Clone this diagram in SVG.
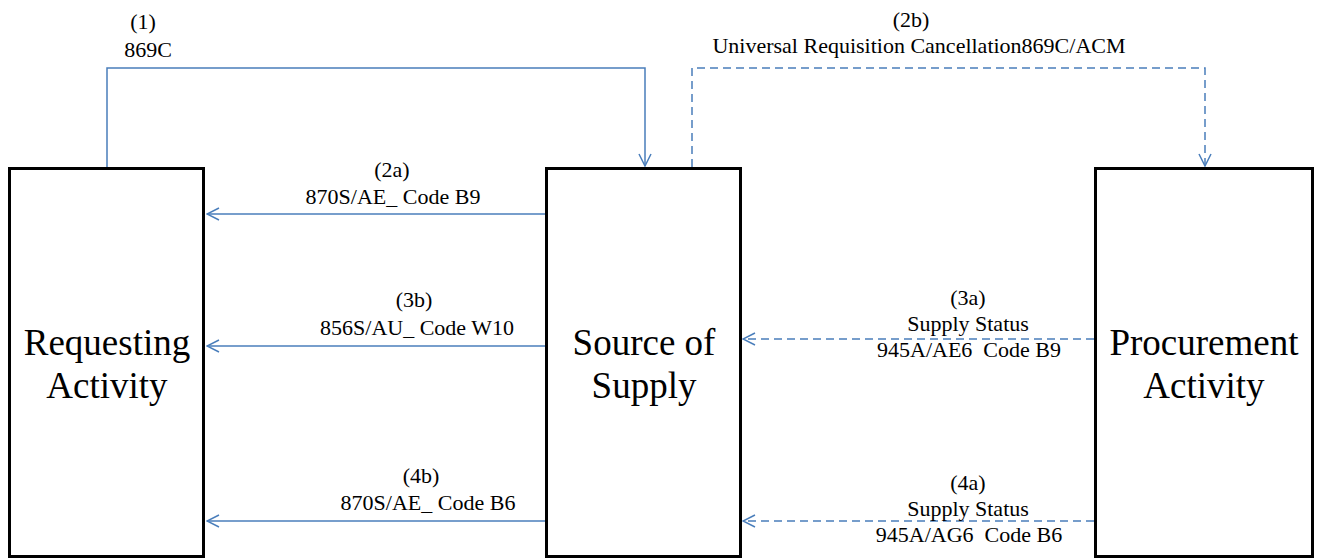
<svg xmlns="http://www.w3.org/2000/svg" width="1317" height="559" viewBox="0 0 1317 559">
<style>
.box{fill:#ffffff;stroke:#000000;stroke-width:3}
.ntxt{font-family:"Liberation Serif","Times New Roman",serif;font-size:37px;fill:#000000;text-anchor:middle}
.lbl{font-family:"Liberation Serif","Times New Roman",serif;font-size:22px;fill:#000000;text-anchor:middle;white-space:pre}
.conn{fill:none;stroke:#4a7ebb;stroke-width:1.5}
.dash{stroke-dasharray:8 5}
</style>
<defs>
<marker id="arr" viewBox="0 0 14 14" refX="13" refY="7" markerWidth="14" markerHeight="14" markerUnits="userSpaceOnUse" orient="auto">
<path d="M1,1 L13,7 L1,13" fill="none" stroke="#4a7ebb" stroke-width="1.5"/>
</marker>
</defs>
<rect width="1317" height="559" fill="#ffffff"/>
<g id="connectors">
<path class="conn" d="M107,167 V68 H645 V166" marker-end="url(#arr)"/>
<path class="conn dash" d="M692,167 V68 H1205 V166" marker-end="url(#arr)"/>
<path class="conn" d="M545,214 H207" marker-end="url(#arr)"/>
<path class="conn" d="M545,346 H207" marker-end="url(#arr)"/>
<path class="conn" d="M545,521 H207" marker-end="url(#arr)"/>
<path class="conn dash" d="M1094,339 H743" marker-end="url(#arr)"/>
<path class="conn dash" d="M1094,521 H743" marker-end="url(#arr)"/>
<text class="lbl" x="143" y="29">(1)</text>
<text class="lbl" x="148" y="57">869C</text>
<text class="lbl" x="911" y="27">(2b)</text>
<text class="lbl" x="919" y="53">Universal Requisition Cancellation869C/ACM</text>
<text class="lbl" x="392" y="177">(2a)</text>
<text class="lbl" x="393" y="204">870S/AE_ Code B9</text>
<text class="lbl" x="414" y="307">(3b)</text>
<text class="lbl" x="417" y="335">856S/AU_ Code W10</text>
<text class="lbl" x="421" y="483">(4b)</text>
<text class="lbl" x="428" y="510">870S/AE_ Code B6</text>
<text class="lbl" x="968" y="305">(3a)</text>
<text class="lbl" x="968" y="331">Supply Status</text>
<text class="lbl" x="969" y="357">945A/AE6  Code B9</text>
<text class="lbl" x="968" y="490">(4a)</text>
<text class="lbl" x="968" y="516">Supply Status</text>
<text class="lbl" x="969" y="542">945A/AG6  Code B6</text>
</g>
<g id="node-requesting">
<rect class="box" x="9.5" y="168.5" width="194" height="388"/>
<text class="ntxt" x="107" y="355">Requesting</text>
<text class="ntxt" x="107" y="398">Activity</text>
</g>
<g id="node-source">
<rect class="box" x="546.5" y="168.5" width="194" height="388"/>
<text class="ntxt" x="644" y="355">Source of</text>
<text class="ntxt" x="644" y="398">Supply</text>
</g>
<g id="node-procurement">
<rect class="box" x="1095.5" y="168.5" width="217" height="388"/>
<text class="ntxt" x="1204" y="355">Procurement</text>
<text class="ntxt" x="1204" y="398">Activity</text>
</g>
</svg>
